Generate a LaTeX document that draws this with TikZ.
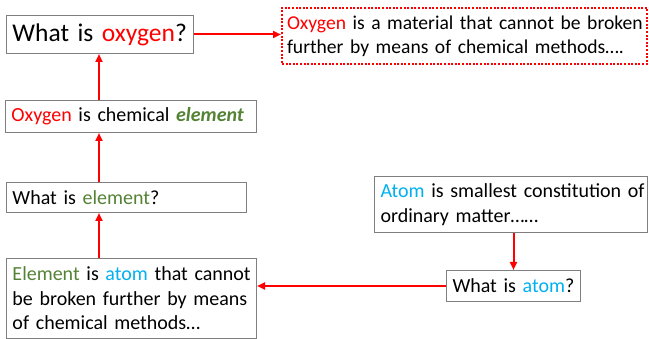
\documentclass[tikz,border=0pt]{standalone}
\usepackage{fontspec}
\setmainfont{Carlito}
\usetikzlibrary{arrows.meta}
\definecolor{okred}{HTML}{FF0000}
\definecolor{okgreen}{HTML}{548235}
\definecolor{okblue}{HTML}{00B0F0}
\definecolor{boxgray}{HTML}{7F7F7F}
\newcommand{\oneline}[1]{\mbox{#1}}
\tikzset{
  box/.style={draw=boxgray, line width=1pt, anchor=north west, inner xsep=6pt, inner ysep=0pt,
    align=left, font=\fontsize{20}{24.4}\selectfont, text=black},
  defbox/.style={box, draw=okred, line width=2pt, dash pattern=on 2pt off 1.6pt, inner xsep=5pt},
  arr/.style={draw=okred, line width=2pt, -{Triangle[length=8pt,width=7pt]}}
}
\begin{document}
\begin{tikzpicture}[x=1pt,y=-1pt]
\useasboundingbox (0,0) rectangle (649,339);
\node[box, text width=175pt, minimum height=38pt, font=\fontsize{25.5}{31}\selectfont] (q1) at (6,15)
  {\oneline{What is \textcolor{okred}{oxygen}?}};
\node[defbox, text width=355pt, minimum height=56pt, font=\fontsize{19.6}{24.4}\selectfont] (def) at (281,7)
  {\oneline{\textcolor{okred}{Oxygen} is a material that cannot be broken}\\\oneline{further by means of chemical methods\dots.}};
\node[box, text width=239pt, minimum height=32pt] (s2) at (5,100)
  {\oneline{\textcolor{okred}{Oxygen} is chemical \textcolor{okgreen}{\textbf{\textit{element}}}}};
\node[box, text width=228pt, minimum height=30pt] (q3) at (6,182)
  {\oneline{What is \textcolor{okgreen}{element}?}};
\node[box, text width=238pt, minimum height=80pt] (s4) at (6,258)
  {\oneline{\textcolor{okgreen}{Element} is \textcolor{okblue}{atom} that cannot}\\\oneline{be broken further by means}\\\oneline{of chemical methods\dots}};
\node[box, text width=261pt, minimum height=56pt] (s5) at (374,176)
  {\oneline{\textcolor{okblue}{Atom} is smallest constitution of}\\\oneline{ordinary matter\dots\dots}};
\node[box, text width=122pt, minimum height=31pt] (q6) at (446,270)
  {\oneline{What is \textcolor{okblue}{atom}?}};
\coordinate (vx) at (99,0);
\draw[arr] (s2.north -| vx) -- (q1.south -| vx);
\draw[arr] (q3.north -| vx) -- (s2.south -| vx);
\draw[arr] (s4.north -| vx) -- (q3.south -| vx);
\draw[arr] (q1.east) -- (q1.east -| def.west);
\draw[arr] (s5.south -| q6.north) -- (q6.north);
\draw[arr] (q6.west) -- (q6.west -| s4.east);
\end{tikzpicture}
\end{document}
